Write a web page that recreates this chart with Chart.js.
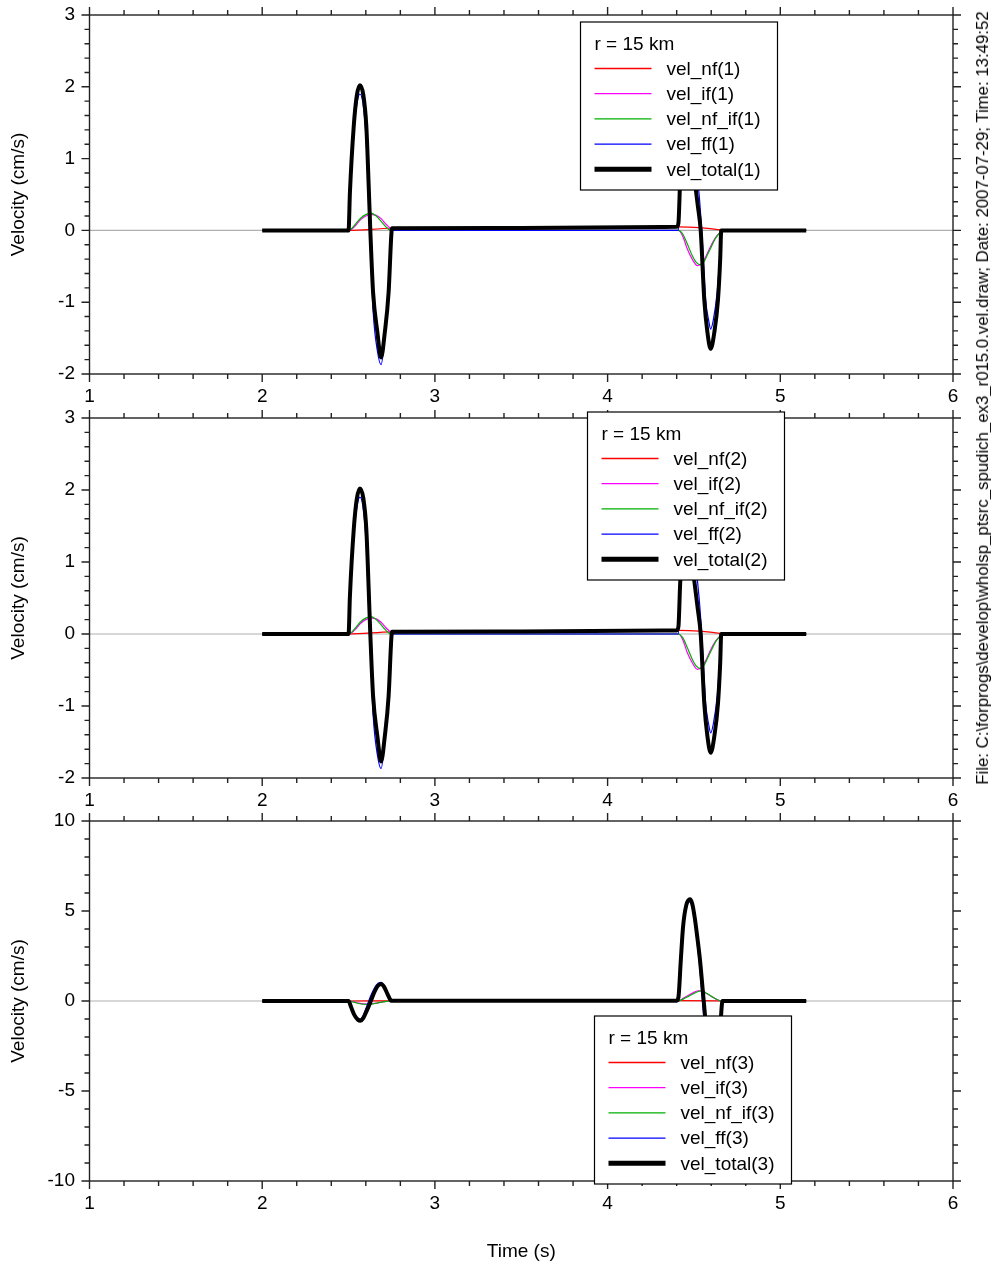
<!DOCTYPE html>
<html>
<head>
<meta charset="utf-8">
<title>Velocity components, r = 15 km</title>
<script src="https://cdn.jsdelivr.net/npm/chart.js@4.4.1/dist/chart.umd.min.js"></script>
<style>
  body { margin: 0; background: #fff; width: 991px; height: 1268px; position: relative; overflow: hidden; }
  canvas { position: absolute; left: 0; }
  #note {
    position: absolute; left: 983px; top: 398px;
    transform: translate(-50%, -50%) rotate(-90deg);
    white-space: nowrap; font: 16.8px "Liberation Sans", Arial, sans-serif; color: #000;
  }
</style>
</head>
<body>
<canvas id="c1" width="991" height="410" style="top:0px"></canvas>
<canvas id="c2" width="991" height="410" style="top:400px"></canvas>
<canvas id="c3" width="991" height="463" style="top:805px"></canvas>
<div id="note"></div>

<script>
// ---- data (time in s, velocity in cm/s) ----
const xTicks = [1, 2, 3, 4, 5, 6];
const yTicksTop = [-2, -1, 0, 1, 2, 3];
const yTicksBottom = [-10, -5, 0, 5, 10];

const seriesNames = ['vel_nf', 'vel_if', 'vel_nf_if', 'vel_ff', 'vel_total'];
const seriesColors = ['#ff0000', '#ff00ff', '#00b000', '#0000ff', '#000000'];
const legendTitle = 'r = 15 km';
const fileNote = 'File: C:\\forprogs\\develop\\wholsp_ptsrc_spudich_ex3_r015.0.vel.draw; Date: 2007-07-29; Time: 13:49:52';

const zeroLine = [[1, 0], [6, 0]];

// component 1
const nf1 = [[2.0, 0], [2.5, 0], [2.75, 0.03], [3.5, 0.035], [4.41, 0.05], [4.66, 0.005], [4.67, 0], [5.15, 0]];
const if1 = [[2.0, 0], [2.5, 0], [2.52, 0.02], [2.545, 0.08], [2.57, 0.15], [2.6, 0.2], [2.635, 0.22], [2.66, 0.21],
  [2.69, 0.16], [2.715, 0.09], [2.74, 0.03], [2.75, 0], [4.41, 0], [4.435, -0.08], [4.46, -0.25], [4.49, -0.4],
  [4.52, -0.49], [4.545, -0.46], [4.57, -0.36], [4.595, -0.23], [4.625, -0.1], [4.65, -0.03], [4.665, 0], [5.15, 0]];
const nfif1 = [[2.0, 0], [2.5, 0], [2.52, 0.03], [2.545, 0.1], [2.57, 0.17], [2.6, 0.22], [2.63, 0.24], [2.655, 0.21],
  [2.68, 0.15], [2.705, 0.08], [2.73, 0.02], [2.745, 0], [4.41, 0], [4.435, -0.05], [4.46, -0.18], [4.49, -0.35],
  [4.515, -0.45], [4.54, -0.48], [4.56, -0.43], [4.58, -0.33], [4.6, -0.23], [4.625, -0.11], [4.647, -0.04], [4.665, 0], [5.15, 0]];
const ff1 = [[2.0, 0], [2.5, 0], [2.508, 0.5], [2.53, 1.38], [2.551, 1.8], [2.566, 1.9], [2.584, 1.76], [2.603, 1.2],
  [2.618, 0.25], [2.627, -0.25], [2.643, -1.15], [2.667, -1.68], [2.688, -1.87], [2.712, -1.45], [2.732, -0.9],
  [2.748, -0.1], [2.752, 0], [4.41, 0], [4.421, 0.7], [4.44, 1.2], [4.465, 1.4], [4.49, 1.25], [4.51, 0.95],
  [4.53, 0.5], [4.545, 0], [4.568, -0.97], [4.585, -1.25], [4.597, -1.375], [4.612, -1.25], [4.635, -0.85],
  [4.65, -0.35], [4.66, 0], [5.15, 0]];
const total1 = [[2.0, 0], [2.5, 0], [2.508, 0.53], [2.53, 1.45], [2.548, 1.88], [2.566, 2.02], [2.586, 1.88],
  [2.603, 1.45], [2.618, 0.53], [2.626, 0], [2.642, -0.86], [2.667, -1.42], [2.688, -1.77], [2.71, -1.42],
  [2.732, -0.86], [2.748, -0.05], [2.752, 0.03], [3.5, 0.035], [4.4, 0.05], [4.41, 0.1], [4.421, 0.74],
  [4.435, 1.05], [4.46, 1.25], [4.485, 1.08], [4.502, 0.74], [4.522, 0.35], [4.539, 0], [4.56, -0.97],
  [4.578, -1.42], [4.597, -1.65], [4.618, -1.42], [4.639, -0.97], [4.652, -0.4], [4.658, 0], [5.15, 0]];

// component 2 reads the same as component 1 on the plot
const nf2 = nf1, if2 = if1, nfif2 = nfif1, ff2 = ff1, total2 = total1;

// component 3
const nf3 = [[2.0, 0], [2.5, 0], [2.75, 0.01], [4.41, 0.02], [4.66, 0.01], [4.67, 0], [5.15, 0]];
const if3 = [[2.0, 0], [2.5, 0], [2.53, -0.05], [2.56, -0.12], [2.59, -0.16], [2.61, -0.17], [2.64, -0.15],
  [2.67, -0.1], [2.7, -0.05], [2.73, -0.015], [2.75, 0], [4.41, 0], [4.44, 0.16], [4.47, 0.33], [4.5, 0.48],
  [4.525, 0.57], [4.545, 0.56], [4.57, 0.43], [4.6, 0.26], [4.625, 0.11], [4.652, 0.01], [4.665, 0], [5.15, 0]];
const nfif3 = [[2.0, 0], [2.5, 0], [2.53, -0.06], [2.56, -0.14], [2.59, -0.18], [2.61, -0.19], [2.64, -0.16],
  [2.67, -0.1], [2.7, -0.05], [2.73, -0.01], [2.75, 0], [4.41, 0], [4.44, 0.12], [4.47, 0.27], [4.5, 0.42],
  [4.525, 0.53], [4.545, 0.57], [4.57, 0.45], [4.6, 0.27], [4.625, 0.12], [4.652, 0.01], [4.665, 0], [5.15, 0]];
const ff3 = [[2.0, 0], [2.5, 0], [2.515, -0.3], [2.535, -0.72], [2.555, -0.95], [2.569, -1.0], [2.585, -0.8],
  [2.605, -0.3], [2.629, 0.3], [2.65, 0.72], [2.67, 0.97], [2.689, 1.03], [2.705, 0.86], [2.725, 0.45],
  [2.745, 0.05], [2.75, 0], [4.41, 0], [4.424, 2.2], [4.437, 4.0], [4.455, 5.15], [4.477, 5.5], [4.49, 5.2],
  [4.505, 4.3], [4.52, 3.1], [4.535, 1.7], [4.55, -0.1], [4.564, -1.7], [4.58, -3.2], [4.6, -4.4], [4.618, -4.7],
  [4.635, -3.9], [4.648, -2.3], [4.657, -0.8], [4.665, 0], [5.15, 0]];
const total3 = [[2.0, 0], [2.5, 0], [2.515, -0.35], [2.535, -0.8], [2.555, -1.05], [2.569, -1.1], [2.585, -0.95],
  [2.605, -0.55], [2.629, 0], [2.65, 0.5], [2.67, 0.85], [2.689, 0.95], [2.705, 0.8], [2.725, 0.4],
  [2.745, 0.03], [2.752, 0.01], [4.4, 0.02], [4.41, 0.2], [4.424, 2.28], [4.437, 4.13], [4.455, 5.3],
  [4.477, 5.65], [4.49, 5.4], [4.505, 4.6], [4.52, 3.5], [4.535, 2.28], [4.55, 0.7], [4.564, -0.8],
  [4.58, -2.6], [4.6, -4.4], [4.618, -4.9], [4.635, -4.0], [4.648, -2.3], [4.657, -0.8], [4.665, 0], [5.15, 0]];

// ---- drawing ----
const family = "'Liberation Sans', Arial, Helvetica, sans-serif";
Chart.defaults.font.family = family;
Chart.defaults.font.size = 19;
Chart.defaults.color = '#000';

document.getElementById('note').textContent = fileNote;

function toPoints(pairs) {
  return pairs.map(p => ({ x: p[0], y: p[1] }));
}

// box round the plot with outward ticks on all four sides
const framePlugin = {
  id: 'frame',
  afterDraw(chart, args, o) {
    const { ctx, chartArea: a, scales: { x, y } } = chart;
    ctx.save();
    ctx.strokeStyle = '#222';
    ctx.lineWidth = 1.4;
    ctx.strokeRect(a.left, a.top, a.right - a.left, a.bottom - a.top);
    ctx.beginPath();
    for (let i = 0; i <= Math.round((x.max - x.min) / o.xMinor); i++) {
      const v = x.min + i * o.xMinor;
      const px = x.getPixelForValue(v);
      const len = Math.abs(v - Math.round(v)) < 1e-6 ? 8 : 5;
      ctx.moveTo(px, a.bottom); ctx.lineTo(px, a.bottom + len);
      ctx.moveTo(px, a.top); ctx.lineTo(px, a.top - len);
    }
    for (let i = 0; i <= Math.round((y.max - y.min) / o.yMinor); i++) {
      const v = y.min + i * o.yMinor;
      const py = y.getPixelForValue(v);
      const r = v / o.yMajor;
      const len = Math.abs(r - Math.round(r)) < 1e-6 ? 8 : 5;
      ctx.moveTo(a.left, py); ctx.lineTo(a.left - len, py);
      ctx.moveTo(a.right, py); ctx.lineTo(a.right + len, py);
    }
    ctx.stroke();
    ctx.restore();
  }
};

// boxed legend with the panel title, drawn over the traces
const legendBoxPlugin = {
  id: 'legendBox',
  afterDraw(chart, args, o) {
    const ctx = chart.ctx;
    const w = 197, h = 168;
    ctx.save();
    ctx.fillStyle = '#fff';
    ctx.fillRect(o.left, o.top, w, h);
    ctx.strokeStyle = '#000';
    ctx.lineWidth = 1.2;
    ctx.strokeRect(o.left, o.top, w, h);
    ctx.font = '19px ' + family;
    ctx.fillStyle = '#000';
    ctx.textBaseline = 'middle';
    ctx.fillText(legendTitle, o.left + 14, o.top + 23);
    chart.data.datasets.filter(d => d.inLegend).forEach((d, i) => {
      const yy = o.top + 46.5 + i * 25.2;
      ctx.strokeStyle = d.borderColor;
      ctx.lineWidth = d.borderWidth > 2 ? 5 : 1.3;
      ctx.beginPath();
      ctx.moveTo(o.left + 14, yy);
      ctx.lineTo(o.left + 71, yy);
      ctx.stroke();
      ctx.fillText(d.label, o.left + 86, yy + 1);
    });
    ctx.restore();
  }
};

function drawPanel(id, comp, traces, yTicks, yMinor, yMajor, legendPos, padTop, xAxisHeight, xTitle) {
  const datasets = traces.map((tr, i) => ({
    label: seriesNames[i] + '(' + comp + ')',
    data: toPoints(tr),
    borderColor: seriesColors[i],
    borderWidth: i === 4 ? 4 : 1.2,
    pointRadius: 0,
    cubicInterpolationMode: 'monotone',
    order: 4 - i,
    inLegend: true
  }));
  datasets.push({
    label: 'zero',
    data: toPoints(zeroLine),
    borderColor: '#b0b0b0',
    borderWidth: 1.2,
    pointRadius: 0,
    order: 10,
    inLegend: false
  });

  return new Chart(document.getElementById(id), {
    type: 'line',
    data: { datasets: datasets },
    options: {
      responsive: false,
      animation: false,
      layout: { padding: { left: 0, right: 38, top: padTop, bottom: 0 } },
      plugins: {
        legend: { display: false },
        tooltip: { enabled: false },
        frame: { xMinor: 0.2, yMinor: yMinor, yMajor: yMajor },
        legendBox: legendPos
      },
      scales: {
        x: {
          type: 'linear',
          min: 1,
          max: 6,
          grid: { display: false, drawTicks: false },
          border: { display: false },
          afterBuildTicks: s => { s.ticks = xTicks.map(v => ({ value: v })); },
          afterFit: s => { s.height = xAxisHeight; },
          ticks: { padding: 11, callback: v => String(v) },
          title: { display: !!xTitle, text: xTitle || '', padding: { top: 0, bottom: 5 } }
        },
        y: {
          type: 'linear',
          min: yTicks[0],
          max: yTicks[yTicks.length - 1],
          grid: { display: false, drawTicks: false },
          border: { display: false },
          afterBuildTicks: s => { s.ticks = yTicks.map(v => ({ value: v })); },
          afterFit: s => { s.width = 89.5; s.paddingTop = 0; s.paddingBottom = 0; },
          ticks: { padding: 14.5, callback: v => String(v) },
          title: { display: true, text: 'Velocity (cm/s)', padding: { top: 7, bottom: 0 } }
        }
      }
    },
    plugins: [framePlugin, legendBoxPlugin]
  });
}

drawPanel('c1', 1, [nf1, if1, nfif1, ff1, total1], yTicksTop, 0.2, 1, { left: 580.5, top: 22 }, 15, 36);
drawPanel('c2', 2, [nf2, if2, nfif2, ff2, total2], yTicksTop, 0.2, 1, { left: 587.5, top: 12 }, 18, 32);
drawPanel('c3', 3, [nf3, if3, nfif3, ff3, total3], yTicksBottom, 1, 5, { left: 594.5, top: 211 }, 16, 87, 'Time (s)');
</script>
</body>
</html>
